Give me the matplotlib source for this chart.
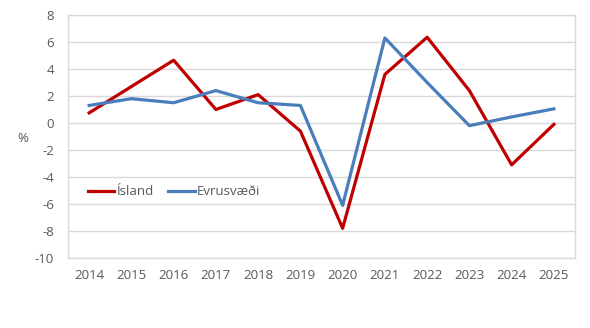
import matplotlib
matplotlib.use("Agg")
import matplotlib.pyplot as plt

years = ["2014", "2015", "2016", "2017", "2018", "2019",
         "2020", "2021", "2022", "2023", "2024", "2025"]
island = [0.75, 2.7, 4.65, 1.0, 2.1, -0.6, -7.8, 3.6, 6.35, 2.4, -3.1, -0.1]
evrusvaedi = [1.3, 1.8, 1.5, 2.4, 1.5, 1.3, -6.1, 6.3, 3.0, -0.2, 0.45, 1.05]
yticks = list(range(-10, 9, 2))

plt.rcParams["font.family"] = ["Open Sans", "DejaVu Sans"]
plt.rcParams["axes.unicode_minus"] = False
TXT = "#595959"
GRID = "#d9d9d9"
FS = 9.5

fig = plt.figure(figsize=(5.9, 3.28), dpi=100)
ax = fig.add_axes([0.1153, 0.2134, 0.8593, 0.7409])

x = range(len(years))
ax.plot(x, island, color="#c00000", lw=2.3, label="Ísland", zorder=3)
ax.plot(x, evrusvaedi, color="#4a7ebb", lw=2.3, label="Evrusvæði", zorder=3)

ax.set_xlim(-0.5, len(years) - 0.5)
ax.set_ylim(-10, 8)
ax.set_yticks(yticks)
ax.set_xticks(list(x))
ax.set_xticklabels(years)
ax.yaxis.grid(True, color=GRID, lw=1)
ax.set_axisbelow(True)
for s in ax.spines.values():
    s.set_color(GRID)
    s.set_linewidth(1)
ax.tick_params(length=0, colors=TXT, labelsize=FS)
ax.tick_params(axis="x", pad=8)
ax.tick_params(axis="y", pad=10)

fig.text(0.039, 0.578, "%", color=TXT, fontsize=FS, ha="center", va="center")

leg = ax.legend(loc="center left", bbox_to_anchor=(0.016, 0.272), ncol=2,
                frameon=False, fontsize=FS, handlelength=2.0,
                handletextpad=0.15, columnspacing=1.1)
for t in leg.get_texts():
    t.set_color(TXT)

fig.savefig("out.png", dpi=100)
